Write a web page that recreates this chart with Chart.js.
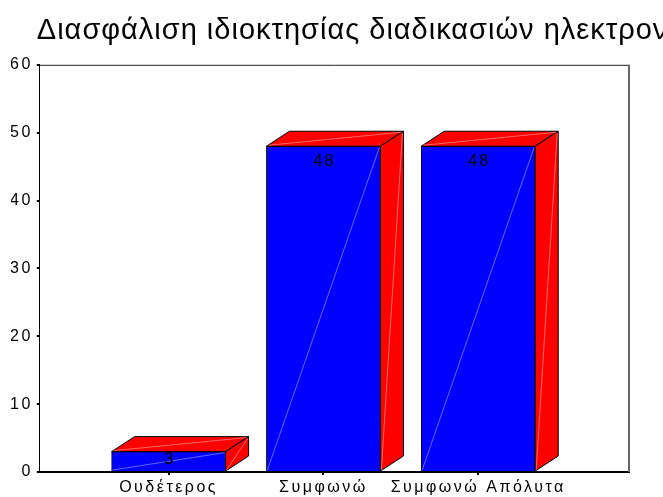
<!DOCTYPE html>
<html>
<head>
<meta charset="utf-8">
<script src="https://cdn.jsdelivr.net/npm/chart.js@4"></script>
<style>
  html, body { margin: 0; padding: 0; background: #fff; }
  #wrap { width: 663px; height: 497px; }
</style>
</head>
<body>
<div id="wrap"><canvas id="barChart"></canvas></div>
<script>
const titleText = 'Διασφάλιση ιδιοκτησίας διαδικασιών ηλεκτρον';
const categories = ['Ουδέτερος', 'Συμφωνώ', 'Συμφωνώ Απόλυτα'];
const counts = [3, 48, 48];
const yTicks = [0, 10, 20, 30, 40, 50, 60];

const FONT = '"Liberation Sans", Arial, sans-serif';

// depth of the fake 3d box (pixels)
const depthX = 23, depthY = 15;

const points = categories.map((c, i) => ({x: i + 1, y: counts[i]}));

// wrap a draw method so its text comes out letter-spaced like SPSS output
function spaceOut(obj, method, spacing) {
    if (!obj || obj['_sp_' + method]) return;
    const orig = obj[method];
    obj[method] = function () {
        this.ctx.save();
        this.ctx.letterSpacing = spacing;
        const r = orig.apply(this, arguments);
        this.ctx.restore();
        return r;
    };
    obj['_sp_' + method] = true;
}

// title runs off the right edge in the original, so don't let chart.js squeeze it
function unsqueezeTitle(tb) {
    if (!tb || tb._wide) return;
    const orig = tb.draw;
    tb.draw = function () {
        const left = this.left, right = this.right;
        this.left = left - 3;
        this.right = left + 2000;
        this.ctx.save();
        this.ctx.letterSpacing = '1px';
        orig.apply(this, arguments);
        this.ctx.restore();
        this.left = left;
        this.right = right;
    };
    tb._wide = true;
}

// top + side faces, diagonal glints and the value labels
const box3d = {
    id: 'box3d',
    afterDatasetsDraw(chart) {
        const ctx = chart.ctx;
        const meta = chart.getDatasetMeta(0);
        ctx.save();
        meta.data.forEach((bar, i) => {
            const w = bar.width;
            const l = bar.x - w / 2, r = bar.x + w / 2;
            const t = bar.y, b = bar.base;

            ctx.lineWidth = 1;
            ctx.strokeStyle = '#000';
            ctx.fillStyle = '#ff0000';
            // top
            ctx.beginPath();
            ctx.moveTo(l, t);
            ctx.lineTo(l + depthX, t - depthY);
            ctx.lineTo(r + depthX, t - depthY);
            ctx.lineTo(r, t);
            ctx.closePath();
            ctx.fill();
            ctx.stroke();
            // side
            ctx.beginPath();
            ctx.moveTo(r, t);
            ctx.lineTo(r + depthX, t - depthY);
            ctx.lineTo(r + depthX, b - depthY);
            ctx.lineTo(r, b);
            ctx.closePath();
            ctx.fill();
            ctx.stroke();

            // faint diagonals
            ctx.strokeStyle = 'rgba(255,255,255,0.4)';
            ctx.beginPath();
            ctx.moveTo(l + 1, b - 1); ctx.lineTo(r - 1, t + 1);
            ctx.moveTo(l + 2, t - 1); ctx.lineTo(r + depthX - 2, t - depthY + 1);
            ctx.moveTo(r + 1, b - 1); ctx.lineTo(r + depthX - 1, t - depthY + 2);
            ctx.stroke();

            // value label
            ctx.fillStyle = '#000';
            ctx.font = '16px ' + FONT;
            ctx.letterSpacing = '2px';
            ctx.textAlign = 'center';
            ctx.textBaseline = 'middle';
            const ly = Math.min(t + 15, (t + b) / 2 - 2);
            ctx.fillText(String(counts[i]), bar.x + 1, ly);
            ctx.letterSpacing = '0px';
        });
        ctx.restore();
    }
};

// top and right edge of the plot frame
const frame = {
    id: 'frame',
    beforeDatasetsDraw(chart) {
        const a = chart.chartArea;
        const ctx = chart.ctx;
        ctx.save();
        ctx.strokeStyle = '#222';
        ctx.lineWidth = 1;
        ctx.beginPath();
        ctx.moveTo(a.left, a.top + 0.5);
        ctx.lineTo(a.right, a.top + 0.5);
        ctx.stroke();
        ctx.strokeStyle = '#666';
        ctx.lineWidth = 2;
        ctx.beginPath();
        ctx.moveTo(a.right, a.top);
        ctx.lineTo(a.right, a.bottom);
        ctx.stroke();
        ctx.restore();
    }
};

const spacing = {
    id: 'spacing',
    beforeDraw(chart) {
        spaceOut(chart.scales.x, 'drawLabels', '2.5px');
        spaceOut(chart.scales.y, 'drawLabels', '2.5px');
        unsqueezeTitle(chart.titleBlock);
    }
};

const config = {
    type: 'bar',
    data: {
        datasets: [{
            data: points,
            backgroundColor: '#0000ff',
            borderColor: '#000',
            borderWidth: 1,
            barThickness: 114,
            clip: false
        }]
    },
    plugins: [frame, box3d, spacing],
    options: {
        responsive: true,
        maintainAspectRatio: false,
        animation: false,
        layout: {padding: {left: 11, right: 34, top: 0, bottom: -4}},
        plugins: {
            legend: {display: false},
            tooltip: {enabled: false},
            title: {
                display: true,
                text: titleText,
                align: 'start',
                fullSize: false,
                color: '#000',
                font: {family: FONT, size: 29, weight: 'normal'},
                padding: {top: 14, bottom: 16}
            }
        },
        scales: {
            x: {
                type: 'linear',
                offset: false,
                min: 0.168,
                max: 3.974,
                afterBuildTicks: (axis) => {
                    axis.ticks = categories.map((c, i) => ({value: i + 1}));
                },
                grid: {display: true, offset: false, drawOnChartArea: false, drawTicks: true, tickLength: 3, color: '#000', lineWidth: 2},
                border: {display: true, color: '#000', width: 2},
                ticks: {
                    color: '#000',
                    padding: 5,
                    maxRotation: 0,
                    autoSkip: false,
                    font: {family: FONT, size: 16, lineHeight: 1},
                    callback: (v) => categories[Math.round(v) - 1] || ''
                }
            },
            y: {
                min: 0,
                max: 60,
                afterBuildTicks: (axis) => {
                    axis.ticks = yTicks.map(v => ({value: v}));
                },
                grid: {display: true, drawOnChartArea: false, drawTicks: true, tickLength: 3, color: '#000', lineWidth: 2},
                border: {display: true, color: '#000', width: 1},
                ticks: {
                    color: '#000',
                    padding: 4,
                    font: {family: FONT, size: 16}
                }
            }
        }
    }
};

const barChart = new Chart(document.getElementById('barChart').getContext('2d'), config);
</script>
</body>
</html>
